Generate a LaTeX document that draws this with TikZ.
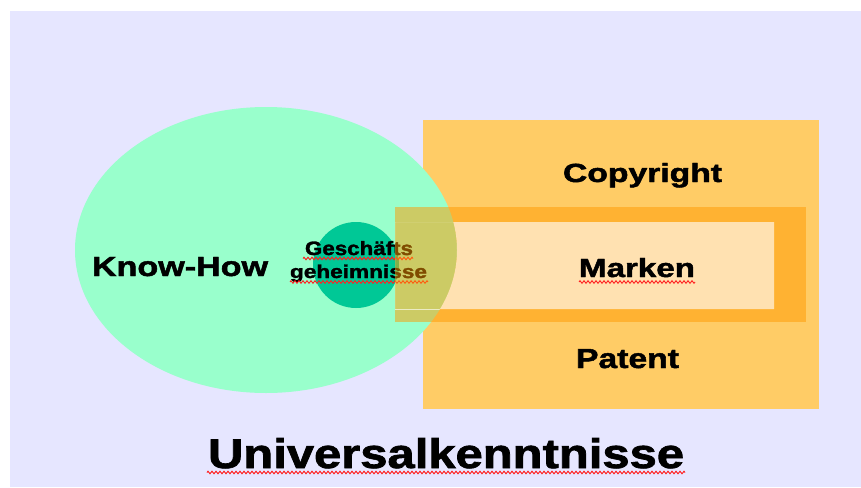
\documentclass[tikz,border=0pt]{standalone}
\usepackage{fontspec}
\setmainfont{Liberation Sans}[BoldFeatures={FakeBold=1.6}]
\usetikzlibrary{decorations.pathmorphing}
\definecolor{lavender}{HTML}{E6E6FF}
\definecolor{mint}{HTML}{99FFCC}
\definecolor{jade}{HTML}{00C896}
\definecolor{sand}{HTML}{FFCC66}
\definecolor{amber}{HTML}{FF9900}
\definecolor{squiggle}{HTML}{FF2020}
% text set to a given width and cap height, placed at its baseline start
\newcommand{\fitlabel}[3]{\resizebox{#1pt}{#2pt}{\bfseries #3}}
\tikzset{
  lbl/.style={anchor=base west, inner sep=0pt, outer sep=0pt},
  spell/.style={draw=squiggle, line width=0.9pt,
    decorate, decoration={zigzag, segment length=4pt, amplitude=1.3pt}},
}
\begin{document}
\begin{tikzpicture}[x=1pt, y=-1pt]
\useasboundingbox (0,0) rectangle (861,487);
\fill[white] (0,0) rectangle (861,487);
\fill[lavender] (10,11) rectangle (861,487);

% property areas
\fill[sand] (423,120) rectangle (819,409);
\fill[mint] (266,250) ellipse [x radius=191, y radius=143];
\fill[jade] (356,265) circle [radius=43];

% trade secrets label sits below the marks band
\node[lbl] (gs1) at (305,255) {\fitlabel{108}{14}{Geschäfts}};
\node[lbl] (gs2) at (290,278) {\fitlabel{137}{13.5}{geheimnisse}};
\coordinate (u1a) at (303,258.5); \coordinate (u1b) at (413,258.5);
\coordinate (u2a) at (290,282); \coordinate (u2b) at (428,282);
\draw[spell] (u1a) -- (u1b);
\draw[spell] (u2a) -- (u2b);

% marks band
\fill[amber, opacity=0.5] (395,207) rectangle (806,322);
\begin{scope}
  \clip (395,222) rectangle (774,309);
  \fill[white, opacity=0.62, even odd rule] (395,222) rectangle (774,309)
    (266,250) ellipse [x radius=191, y radius=143];
\end{scope}

% labels
\node[lbl] (kh) at (92,276) {\fitlabel{176}{19}{Know-How}};
\node[lbl] (cr) at (563,182) {\fitlabel{159}{19}{Copyright}};
\node[lbl] (mk) at (579,277) {\fitlabel{116}{19}{Marken}};
\node[lbl] (pt) at (576,368) {\fitlabel{103}{19}{Patent}};
\node[lbl] (uk) at (208,468) {\fitlabel{476}{30}{Universalkenntnisse}};
\coordinate (u3a) at (579,282); \coordinate (u3b) at (695,282);
\coordinate (u4a) at (207,472.5); \coordinate (u4b) at (685,472.5);
\draw[spell] (u3a) -- (u3b);
\draw[spell] (u4a) -- (u4b);
\end{tikzpicture}
\end{document}
